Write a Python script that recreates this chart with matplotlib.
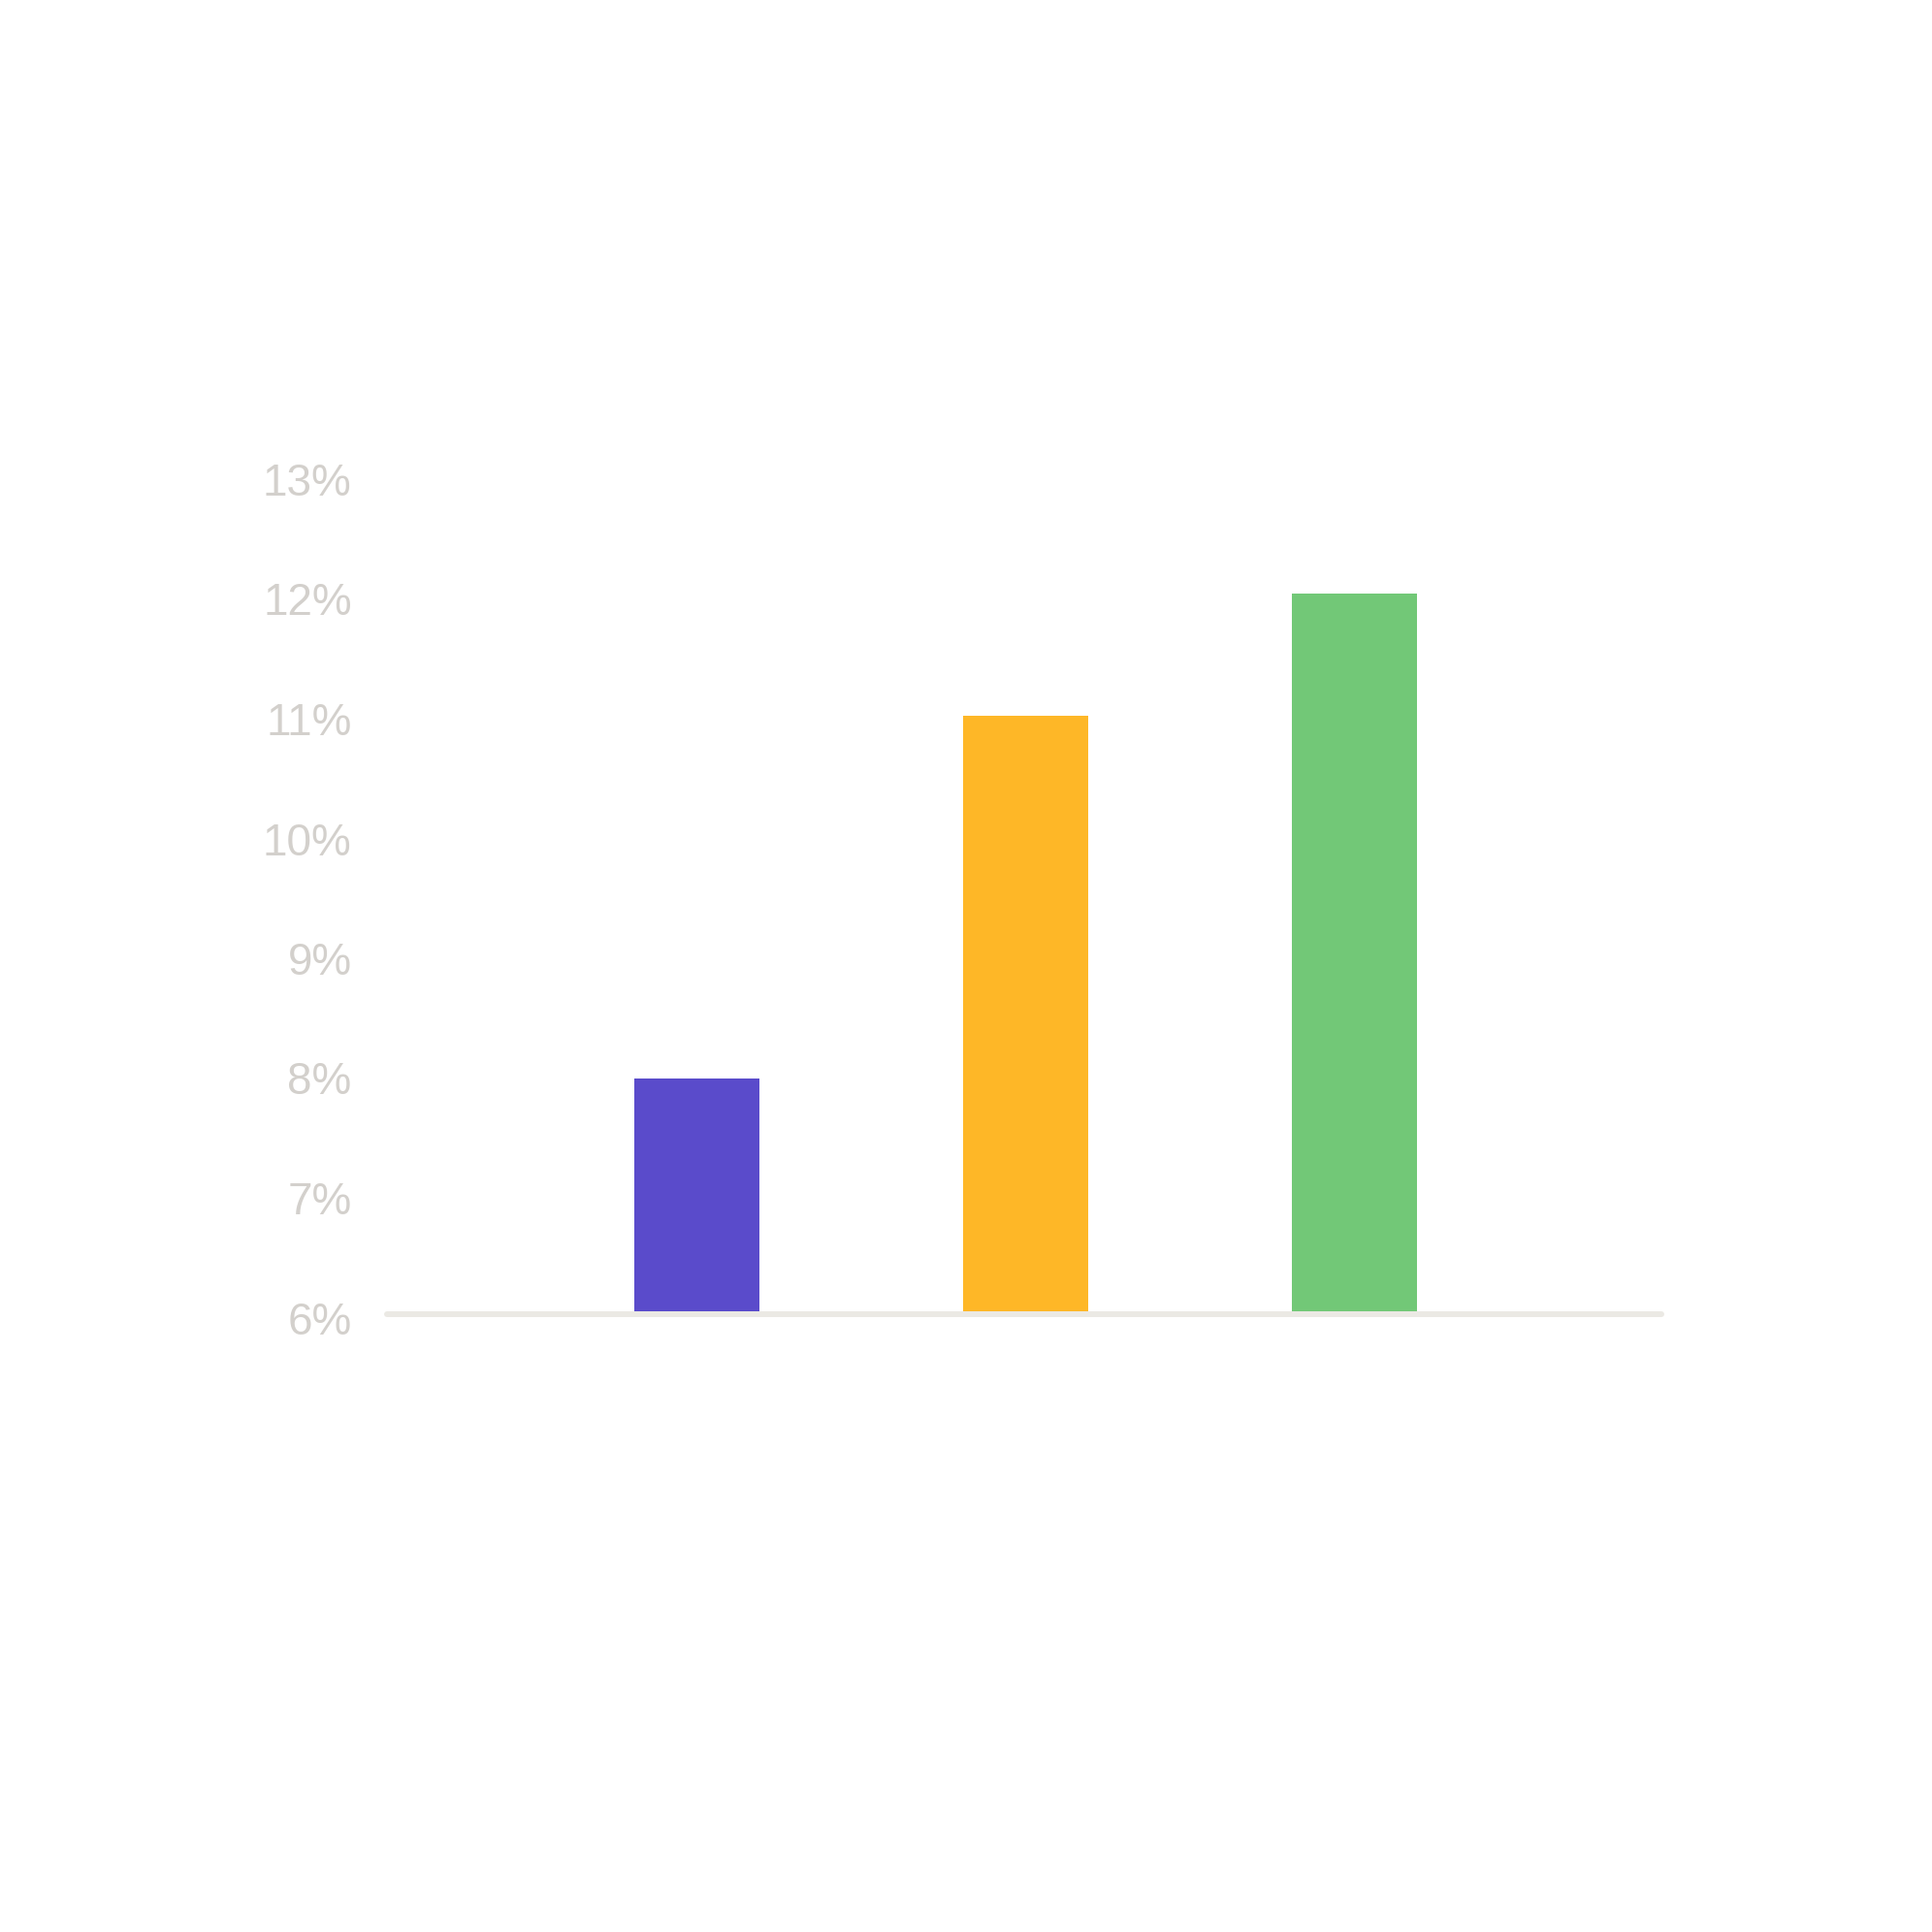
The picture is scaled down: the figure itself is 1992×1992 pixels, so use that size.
import matplotlib
matplotlib.use("Agg")
import matplotlib.pyplot as plt
from matplotlib.ticker import FuncFormatter
from matplotlib.transforms import ScaledTranslation

# data
categories = ["A", "B", "C"]
values = [7.97, 11.0, 12.02]
bar_colors = ["#5a4bcb", "#feb727", "#72c877"]
y_ticks = [6, 7, 8, 9, 10, 11, 12, 13]

W = H = 1992
fig = plt.figure(figsize=(W / 100, H / 100), dpi=100)
fig.patch.set_facecolor("white")

# axes placed so that 6% sits on the baseline and 13% at the top label
ax = fig.add_axes([396 / W, (W - 1355.5) / H, 1320 / W, 7 * 123.5 / H])
ax.set_facecolor("none")

x = list(range(len(categories)))
ax.bar(x, [v - y_ticks[0] for v in values], bottom=y_ticks[0],
       width=0.38, color=bar_colors, zorder=2)

x0, x1 = -0.951, 2.943
ax.set_xlim(x0, x1)
ax.set_ylim(y_ticks[0], y_ticks[-1])

# baseline with rounded ends (inset so the caps end at the axes edge)
inset = 3 * (x1 - x0) / 1320
ax.plot([x0 + inset, x1 - inset], [y_ticks[0], y_ticks[0]],
        color="#ebe9e4", linewidth=4.3, solid_capstyle="round",
        zorder=3, clip_on=False)

ax.set_yticks(y_ticks)
ax.yaxis.set_major_formatter(FuncFormatter(lambda v, p: f"{v:.0f}%"))
ax.set_xticks([])
ax.tick_params(axis="y", length=0, pad=24, labelsize=33,
               labelcolor="#d3d0cc")
shift = ScaledTranslation(0, -3 / 100, fig.dpi_scale_trans)
for lab in ax.get_yticklabels():
    lab.set_family(["Liberation Sans", "DejaVu Sans"])
    lab.set_transform(lab.get_transform() + shift)

for side in ["top", "right", "left", "bottom"]:
    ax.spines[side].set_visible(False)

fig.savefig("out.png", dpi=100, facecolor="white")
